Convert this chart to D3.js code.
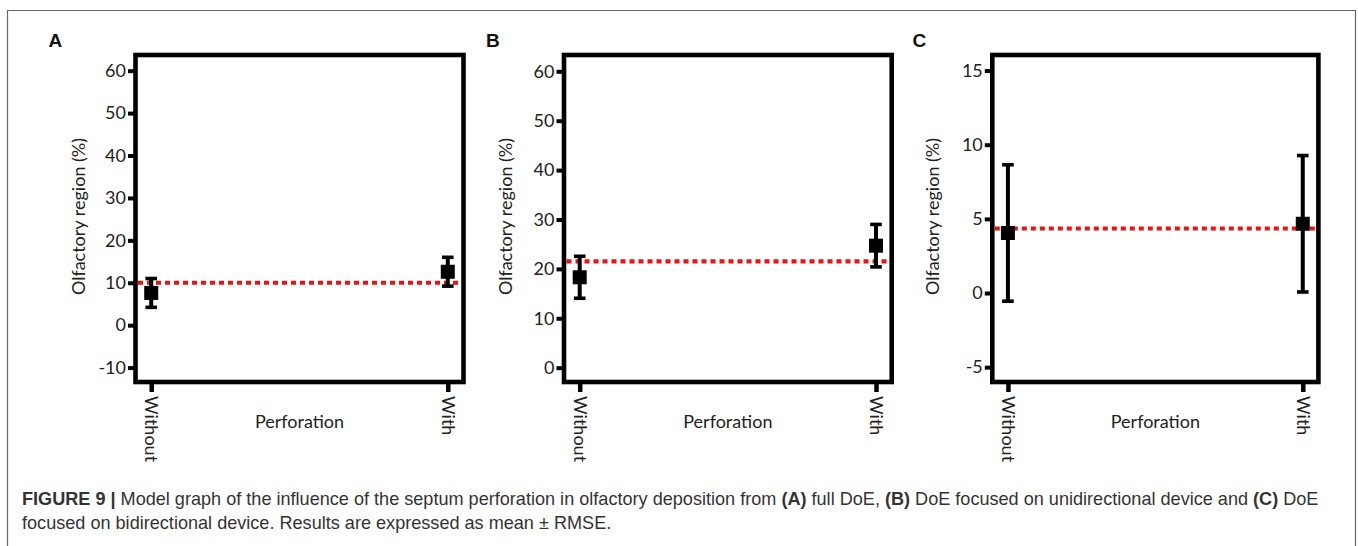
<!DOCTYPE html>
<html>
<head>
<meta charset="utf-8">
<script src="https://cdn.jsdelivr.net/npm/d3@7"></script>
<style>
  html, body { margin: 0; padding: 0; background: #fff; }
  svg { display: block; }
</style>
</head>
<body>
<svg id="chart" width="1358" height="546"></svg>
<script>
// ---- data ----
const categories = ["Without", "With"];
const panelLabels = ["A", "B", "C"];
const meansA = [7.6, 12.6];
const errorsA = [3.4, 3.4];
const refA = 10.0;
const ticksA = [-10, 0, 10, 20, 30, 40, 50, 60];
const domainA = [-13.4, 63.7];

const meansB = [18.3, 24.7];
const errorsB = [4.25, 4.3];
const refB = 21.5;
const ticksB = [0, 10, 20, 30, 40, 50, 60];
const domainB = [-2.9, 63.3];

const meansC = [4.05, 4.67];
const errorsC = [4.6, 4.6];
const refC = 4.35;
const ticksC = [-5, 0, 5, 10, 15];
const domainC = [-6.0, 16.05];

const yTitle = "Olfactory region (%)";
const xTitle = "Perforation";

// ---- layout ----
const svg = d3.select("#chart");
const panels = [
  { label: "A", means: meansA, errors: errorsA, ref: refA, ticks: ticksA, domain: domainA,
    left: 135.5, right: 463.5, letterX: 48.5, yTitleX: 79 },
  { label: "B", means: meansB, errors: errorsB, ref: refB, ticks: ticksB, domain: domainB,
    left: 564, right: 891.7, letterX: 486, yTitleX: 505.5 },
  { label: "C", means: meansC, errors: errorsC, ref: refC, ticks: ticksC, domain: domainC,
    left: 992.3, right: 1318.4, letterX: 912.5, yTitleX: 933 }
];
const plotTop = 55, plotBottom = 382;
const lato = "Lato, 'Open Sans', sans-serif";

// outer frame
svg.append("path")
  .attr("d", "M7.5,546 L7.5,10.5 L1355.5,10.5 L1355.5,546")
  .attr("fill", "none").attr("stroke", "#666").attr("stroke-width", 1.2);

panels.forEach(p => {
  const g = svg.append("g");
  const y = d3.scaleLinear().domain(p.domain).range([plotBottom, plotTop]);
  const x = d3.scalePoint().domain(categories).range([p.left, p.right]).padding(0.053);

  // red reference line
  g.append("line")
    .attr("x1", p.left + 2.5).attr("x2", p.right - 2.5)
    .attr("y1", y(p.ref)).attr("y2", y(p.ref))
    .attr("stroke", "#ee1111").attr("stroke-width", 4.2)
    .attr("stroke-dasharray", "5,4");

  // y axis ticks
  const yAxis = d3.axisLeft(y).tickValues(p.ticks).tickSize(7.5).tickSizeOuter(0).tickPadding(2)
    .tickFormat(d => String(d));
  const ya = g.append("g").attr("transform", `translate(${p.left},0)`).call(yAxis);
  ya.select(".domain").remove();
  ya.selectAll(".tick line").attr("stroke", "#000").attr("stroke-width", 4);
  ya.selectAll(".tick text").attr("fill", "#222").style("font-family", lato).style("font-size", "18px");

  // x axis ticks
  const xAxis = d3.axisBottom(x).tickSize(10).tickSizeOuter(0);
  const xa = g.append("g").attr("transform", `translate(0,${plotBottom})`).call(xAxis);
  xa.select(".domain").remove();
  xa.selectAll(".tick line").attr("stroke", "#000").attr("stroke-width", 4.5);
  xa.selectAll(".tick text")
    .attr("fill", "#222").style("font-family", lato).style("font-size", "18px")
    .attr("transform", "rotate(90)")
    .attr("y", 0).attr("x", 14).attr("dy", "0.35em")
    .attr("text-anchor", "start");

  // box
  g.append("rect")
    .attr("x", p.left).attr("y", plotTop)
    .attr("width", p.right - p.left).attr("height", plotBottom - plotTop)
    .attr("fill", "none").attr("stroke", "#000").attr("stroke-width", 4.6);

  // error bars
  const eb = g.selectAll(".eb").data(categories).enter().append("g");
  eb.append("line")
    .attr("x1", d => x(d)).attr("x2", d => x(d))
    .attr("y1", (d, i) => y(p.means[i] + p.errors[i]))
    .attr("y2", (d, i) => y(p.means[i] - p.errors[i]))
    .attr("stroke", "#000").attr("stroke-width", 4);
  [1, -1].forEach(s => {
    eb.append("line")
      .attr("x1", d => x(d) - 5.8).attr("x2", d => x(d) + 5.8)
      .attr("y1", (d, i) => y(p.means[i] + s * p.errors[i]))
      .attr("y2", (d, i) => y(p.means[i] + s * p.errors[i]))
      .attr("stroke", "#000").attr("stroke-width", 3.6);
  });
  eb.append("rect")
    .attr("x", d => x(d) - 7).attr("y", (d, i) => y(p.means[i]) - 7)
    .attr("width", 14).attr("height", 14).attr("fill", "#000");

  // titles
  g.append("text")
    .attr("transform", `translate(${p.yTitleX},${(plotTop + plotBottom) / 2 - 2}) rotate(-90)`)
    .attr("text-anchor", "middle").attr("dy", "0.35em")
    .attr("fill", "#222").style("font-family", lato).style("font-size", "18px")
    .text(yTitle);
  g.append("text")
    .attr("x", (p.left + p.right) / 2).attr("y", 428)
    .attr("text-anchor", "middle")
    .attr("fill", "#222").style("font-family", lato).style("font-size", "18px")
    .text(xTitle);
  g.append("text")
    .attr("x", p.letterX).attr("y", 47)
    .attr("fill", "#111").style("font-family", "'Liberation Sans', Arial, sans-serif")
    .style("font-weight", "bold").style("font-size", "19px")
    .text(p.label);
});

// caption
const capFont = "'Liberation Sans', Arial, Helvetica, sans-serif";
const line1 = svg.append("text").attr("x", 22).attr("y", 505)
  .style("font-family", capFont).style("font-size", "18.1px").attr("fill", "#333");
[["FIGURE 9 | ", true], ["Model graph of the influence of the septum perforation in olfactory deposition from ", false],
 ["(A)", true], [" full DoE, ", false], ["(B)", true], [" DoE focused on unidirectional device and ", false],
 ["(C)", true], [" DoE", false]].forEach(([t, b]) => {
  line1.append("tspan").style("font-weight", b ? "bold" : "normal").text(t);
});
svg.append("text").attr("x", 22).attr("y", 529)
  .style("font-family", capFont).style("font-size", "18.1px").attr("fill", "#333")
  .text("focused on bidirectional device. Results are expressed as mean \u00B1 RMSE.");
</script>
</body>
</html>
